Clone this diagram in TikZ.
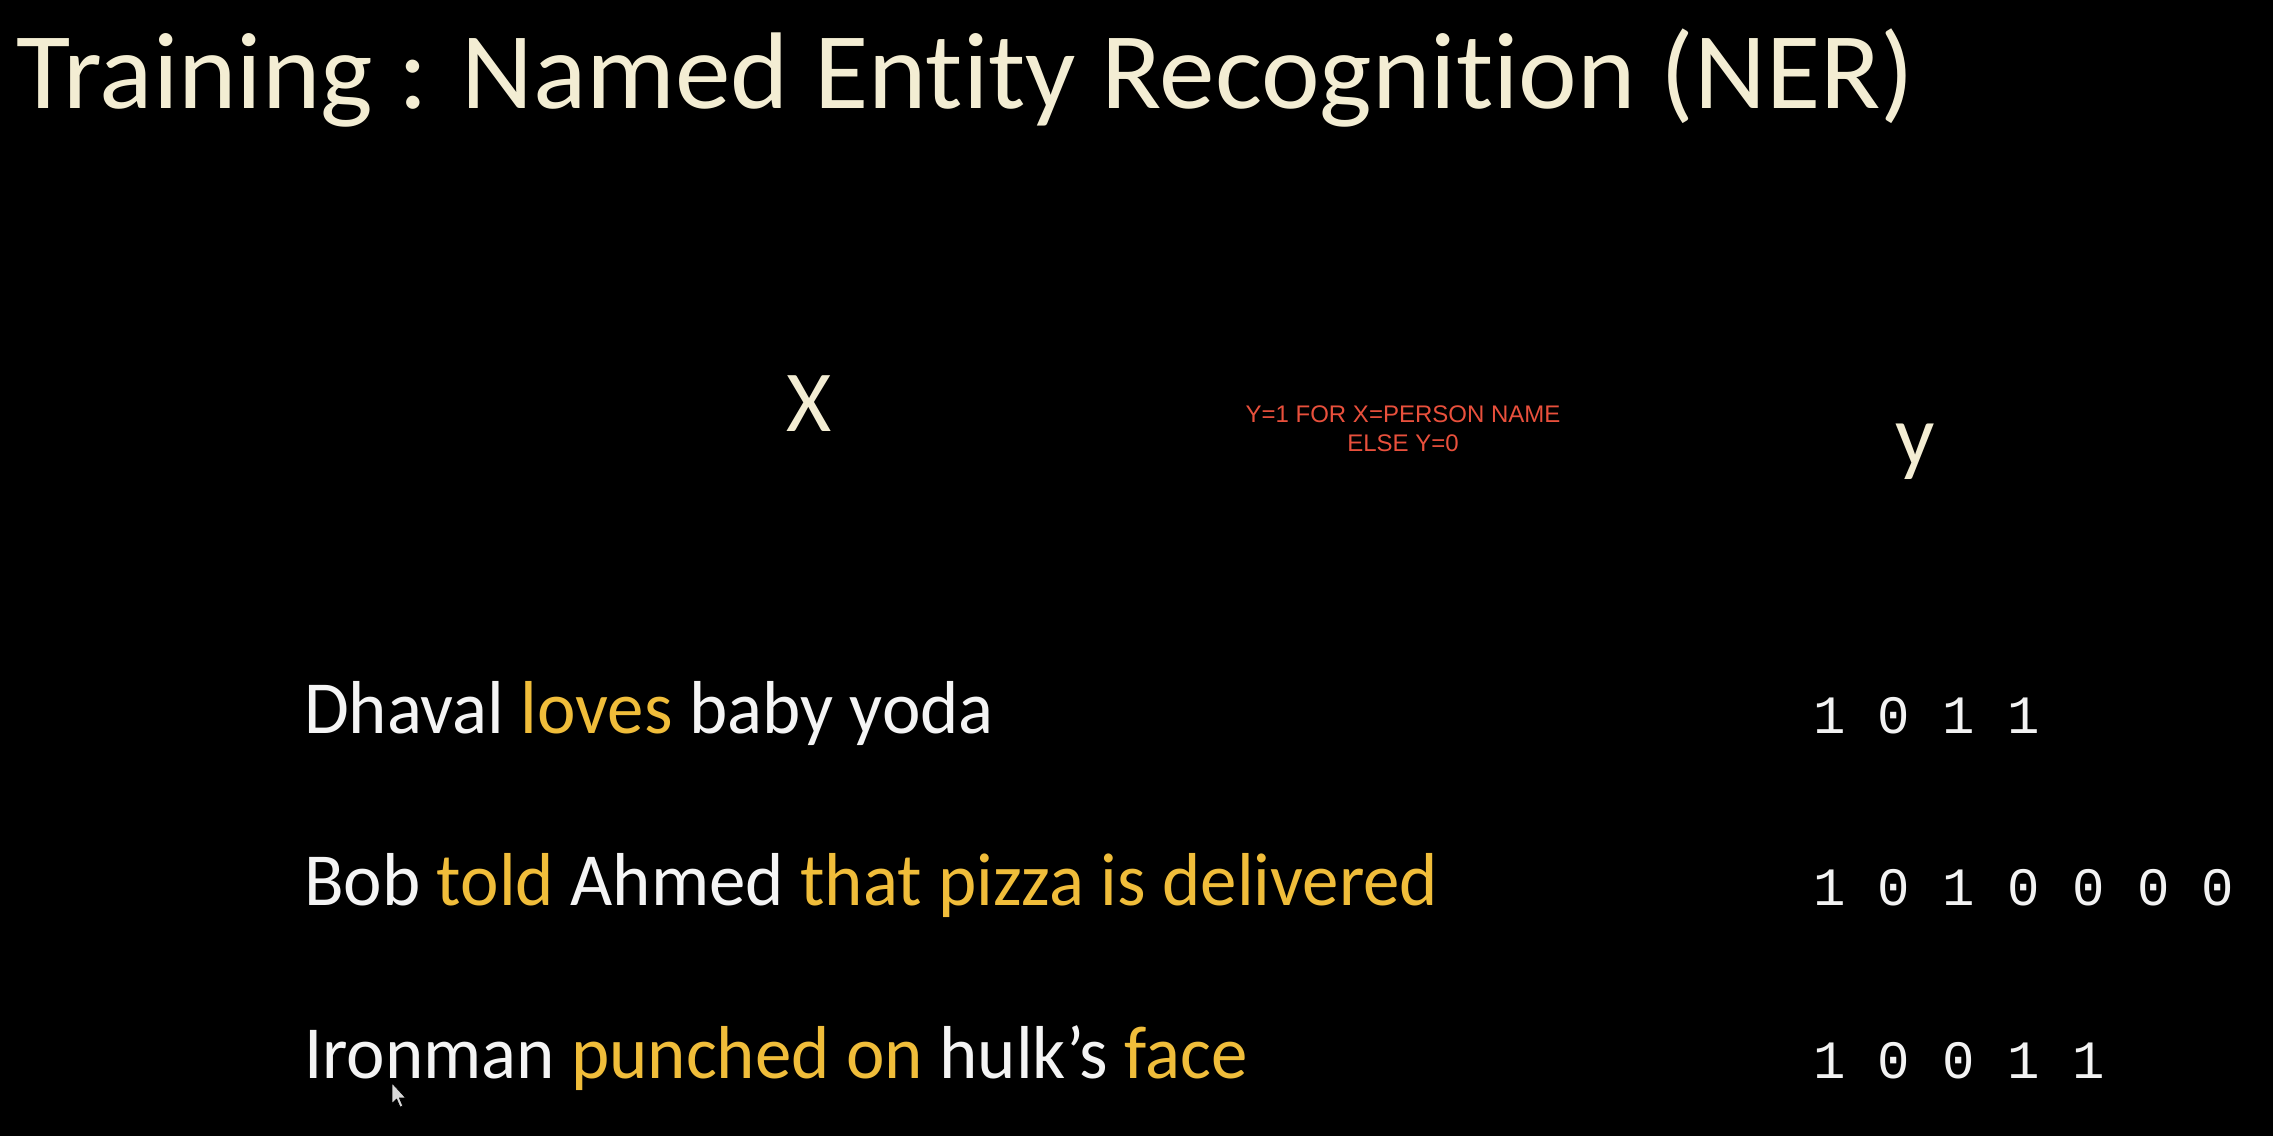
\documentclass[tikz,border=0pt]{standalone}
\usepackage{fontspec}
\setmainfont{Carlito}[Ligatures=NoCommon]
\newfontfamily\titlefont{Carlito}[Ligatures=NoCommon, FakeStretch=1.02]
\newfontfamily\sentfont{Carlito}[Ligatures=NoCommon, FakeStretch=0.972]
\newfontfamily\redfont{Liberation Sans}
\newfontfamily\digfont{Liberation Mono}
\definecolor{bgcol}{HTML}{000000}
\definecolor{titlecol}{HTML}{F3EDD3}
\definecolor{wordcol}{HTML}{F4F4F4}
\definecolor{hicol}{HTML}{F0BD3A}
\definecolor{notecol}{HTML}{E9503C}
\definecolor{digcol}{HTML}{F2F2F2}
\definecolor{cursorcol}{HTML}{D8D8D8}
\tikzset{
  plain/.style={inner sep=0pt, outer sep=0pt},
  titletext/.style={plain, anchor=base west, text=titlecol, font=\titlefont\fontsize{109bp}{120bp}\selectfont},
  headtext/.style={plain, anchor=base, text=titlecol, font=\fontsize{87bp}{95bp}\selectfont},
  sentence/.style={plain, anchor=base west, text=wordcol, font=\sentfont\fontsize{75bp}{85bp}\selectfont},
  labels/.style={plain, anchor=base west, text=digcol, font=\digfont\fontsize{54bp}{60bp}\selectfont},
  note/.style={plain, anchor=base, text=notecol, align=center, font=\redfont\fontsize{24bp}{29bp}\selectfont},
}
\newcommand{\hi}[1]{\textcolor{hicol}{#1}}
\begin{document}
\begin{tikzpicture}[x=1bp,y=-1bp]
\fill[bgcol] (0,0) rectangle (2273,1136);
\useasboundingbox (0,0) rectangle (2273,1136);
\node[titletext] (title) at (16,108) {Training : Named Entity Recognition (NER)};
\node[headtext] (xhead) at (809,431) {X};
\node[headtext] (yhead) at (1915,465) {y};
\node[note] (note) at (1403,451) {Y=1 FOR X=PERSON NAME\\ELSE Y=0};
\node[sentence] (s1) at (304,733) {Dhaval \hi{loves} baby yoda};
\node[sentence] (s2) at (304,905) {Bob \hi{told} Ahmed \hi{that pizza is delivered}};
\node[sentence] (s3) at (304,1078) {Ironman \hi{punched on} hulk’s \hi{face}};
\node[labels] (l1) at (1813,733) {1 0 1 1};
\node[labels] (l2) at (1813,905) {1 0 1 0 0 0 0};
\node[labels] (l3) at (1813,1078) {1 0 0 1 1};
\coordinate (tip) at (392,1083);
\draw[fill=cursorcol, draw=black, line width=0.8bp, line join=round, shift={(tip)}, scale=1.15]
  (0,0) -- (0,18) -- (4,14) -- (7,21) -- (9.5,20) -- (6.5,13) -- (12,13) -- cycle;
\end{tikzpicture}
\end{document}
